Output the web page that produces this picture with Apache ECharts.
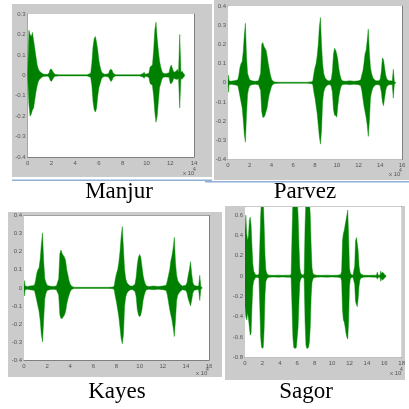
<!DOCTYPE html>
<html><head><meta charset="utf-8">
<script src="https://cdn.jsdelivr.net/npm/echarts@6/dist/echarts.min.js"></script>
<style>html,body{margin:0;padding:0;background:#fff}#c{width:409px;height:409px}</style>
</head><body><div id="c"></div>
<script>
// ---- data (x in units of 10^4 samples; hi/lo = waveform envelope) ----
const names = ['Manjur', 'Parvez', 'Kayes', 'Sagor'];
const xMaxs = [14, 16, 16, 18];
const yMins = [-0.4, -0.4, -0.4, -0.8];
const yMaxs = [0.3, 0.4, 0.4, 0.68];
const yIntervals = [0.1, 0.1, 0.1, 0.2];

const manjurX  = [0,0.1,0.2,0.3,0.4,0.5,0.6,0.7,0.8,0.9,1.0,1.1,1.2,1.3,1.5,1.7,1.8,1.9,2.0,2.1,2.2,2.3,2.6,3.0,3.4,3.8,4.2,4.6,5.0,5.3,5.4,5.5,5.6,5.7,5.8,5.9,6.0,6.1,6.2,6.3,6.5,6.8,6.9,7.0,7.1,7.2,7.4,7.8,8.2,8.6,9.0,9.4,9.7,9.8,9.9,10.2,10.3,10.4,10.5,10.6,10.7,10.8,10.9,11.0,11.1,11.2,11.3,11.4,11.6,11.9,12.0,12.1,12.2,12.3,12.5,12.6,12.7,12.8,12.9,13.0,13.1,13.2];
const manjurHi = [0.01,0.22,0.2,0.19,0.21,0.17,0.13,0.09,0.05,0.03,0.02,0.015,0.01,0.006,0.005,0.005,0.012,0.03,0.03,0.02,0.01,0.005,0.003,0.003,0.003,0.003,0.003,0.003,0.003,0.01,0.06,0.14,0.18,0.19,0.16,0.12,0.07,0.04,0.02,0.01,0.005,0.008,0.025,0.03,0.025,0.01,0.003,0.003,0.003,0.003,0.003,0.003,0.008,0.015,0.005,0.01,0.04,0.045,0.05,0.12,0.22,0.26,0.18,0.12,0.07,0.04,0.02,0.01,0.008,0.012,0.04,0.05,0.03,0.015,0.02,0.03,0.015,0.2,0.015,0.02,0.01,0.005];
const manjurLo = [-0.01,-0.14,-0.2,-0.19,-0.17,-0.16,-0.12,-0.08,-0.05,-0.03,-0.02,-0.015,-0.01,-0.006,-0.005,-0.005,-0.01,-0.025,-0.03,-0.02,-0.01,-0.005,-0.003,-0.003,-0.003,-0.003,-0.003,-0.003,-0.003,-0.01,-0.05,-0.13,-0.17,-0.18,-0.16,-0.1,-0.06,-0.04,-0.02,-0.01,-0.005,-0.008,-0.02,-0.03,-0.025,-0.01,-0.003,-0.003,-0.003,-0.003,-0.003,-0.003,-0.008,-0.015,-0.005,-0.01,-0.04,-0.045,-0.05,-0.1,-0.18,-0.23,-0.2,-0.13,-0.06,-0.04,-0.02,-0.01,-0.008,-0.01,-0.04,-0.04,-0.03,-0.015,-0.02,-0.02,-0.015,-0.16,-0.015,-0.02,-0.01,-0.005];

const parvezX  = [0,0.05,0.1,0.3,0.5,0.7,0.9,1.0,1.1,1.2,1.3,1.4,1.5,1.6,1.7,1.8,1.9,2.0,2.2,2.5,2.8,3.0,3.1,3.2,3.3,3.4,3.5,3.6,3.7,3.8,3.9,4.0,4.1,4.3,4.8,5.3,5.8,6.3,6.8,7.3,7.7,7.8,7.9,8.0,8.1,8.2,8.3,8.4,8.5,8.6,8.7,8.8,8.9,9.0,9.2,9.4,9.5,9.6,9.7,9.8,9.9,10.0,10.1,10.2,10.3,10.4,10.5,10.8,11.2,11.6,12.0,12.2,12.3,12.4,12.5,12.6,12.7,12.8,12.9,13.0,13.1,13.2,13.3,13.4,13.6,13.9,14.0,14.1,14.2,14.3,14.4,14.5,14.6,14.8,15.0,15.1,15.2,15.3,15.4];
const parvezHi = [0.01,0.04,0.01,0.008,0.01,0.012,0.015,0.04,0.08,0.1,0.11,0.16,0.25,0.31,0.14,0.05,0.03,0.015,0.01,0.008,0.01,0.05,0.2,0.21,0.19,0.18,0.17,0.14,0.1,0.07,0.04,0.02,0.01,0.004,0.003,0.003,0.003,0.003,0.003,0.003,0.005,0.01,0.05,0.08,0.1,0.14,0.2,0.29,0.34,0.2,0.1,0.05,0.03,0.02,0.01,0.01,0.02,0.06,0.15,0.18,0.17,0.15,0.12,0.07,0.04,0.02,0.01,0.008,0.01,0.008,0.01,0.015,0.04,0.06,0.1,0.15,0.17,0.22,0.28,0.16,0.08,0.05,0.03,0.02,0.01,0.01,0.02,0.06,0.13,0.12,0.08,0.04,0.02,0.01,0.01,0.008,0.07,0.005,0.003];
const parvezLo = [-0.01,-0.05,-0.01,-0.008,-0.01,-0.012,-0.015,-0.04,-0.07,-0.1,-0.13,-0.19,-0.27,-0.31,-0.17,-0.06,-0.03,-0.015,-0.01,-0.008,-0.01,-0.04,-0.15,-0.18,-0.18,-0.17,-0.15,-0.13,-0.09,-0.06,-0.04,-0.02,-0.01,-0.004,-0.003,-0.003,-0.003,-0.003,-0.003,-0.003,-0.005,-0.01,-0.05,-0.08,-0.12,-0.16,-0.22,-0.28,-0.32,-0.25,-0.1,-0.05,-0.03,-0.02,-0.01,-0.01,-0.02,-0.05,-0.14,-0.17,-0.17,-0.18,-0.12,-0.07,-0.04,-0.02,-0.01,-0.008,-0.01,-0.008,-0.01,-0.015,-0.04,-0.08,-0.12,-0.15,-0.18,-0.22,-0.28,-0.2,-0.08,-0.05,-0.03,-0.02,-0.01,-0.01,-0.02,-0.05,-0.1,-0.12,-0.08,-0.04,-0.02,-0.01,-0.01,-0.008,-0.08,-0.005,-0.003];

const kayesX  = [0,0.05,0.1,0.3,0.5,0.7,0.9,1.0,1.1,1.2,1.3,1.4,1.5,1.6,1.7,1.8,1.9,2.0,2.2,2.5,2.8,3.0,3.1,3.2,3.3,3.4,3.5,3.6,3.7,3.8,3.9,4.0,4.1,4.3,4.8,5.3,5.8,6.3,6.8,7.3,7.7,7.8,7.9,8.0,8.1,8.2,8.3,8.4,8.5,8.6,8.7,8.8,8.9,9.0,9.2,9.4,9.6,9.7,9.8,9.9,10.0,10.1,10.2,10.3,10.4,10.5,10.6,10.8,11.2,11.6,12.0,12.3,12.4,12.5,12.6,12.7,12.8,12.9,13.0,13.1,13.2,13.3,13.4,13.5,13.7,14.0,14.1,14.2,14.3,14.4,14.5,14.6,14.7,14.9,15.1,15.2,15.3,15.4];
const kayesHi = [0.01,0.04,0.01,0.008,0.01,0.012,0.015,0.04,0.08,0.1,0.11,0.16,0.24,0.305,0.15,0.05,0.03,0.015,0.01,0.008,0.01,0.05,0.19,0.21,0.19,0.18,0.17,0.15,0.1,0.07,0.04,0.02,0.01,0.004,0.003,0.003,0.003,0.003,0.003,0.003,0.005,0.01,0.05,0.08,0.1,0.14,0.2,0.28,0.34,0.22,0.1,0.05,0.03,0.02,0.01,0.01,0.02,0.06,0.13,0.17,0.185,0.17,0.12,0.07,0.04,0.02,0.01,0.008,0.01,0.008,0.01,0.015,0.04,0.07,0.1,0.15,0.18,0.22,0.28,0.14,0.07,0.04,0.03,0.02,0.01,0.015,0.03,0.07,0.1,0.145,0.08,0.03,0.015,0.01,0.01,0.07,0.005,0.003];
const kayesLo = [-0.01,-0.045,-0.01,-0.008,-0.01,-0.012,-0.015,-0.04,-0.07,-0.1,-0.13,-0.18,-0.26,-0.3,-0.18,-0.06,-0.03,-0.015,-0.01,-0.008,-0.01,-0.04,-0.15,-0.17,-0.17,-0.16,-0.15,-0.13,-0.09,-0.06,-0.04,-0.02,-0.01,-0.004,-0.003,-0.003,-0.003,-0.003,-0.003,-0.003,-0.005,-0.01,-0.05,-0.08,-0.12,-0.16,-0.22,-0.28,-0.31,-0.26,-0.1,-0.05,-0.03,-0.02,-0.01,-0.01,-0.02,-0.05,-0.12,-0.15,-0.16,-0.15,-0.12,-0.07,-0.04,-0.02,-0.01,-0.008,-0.01,-0.008,-0.01,-0.015,-0.04,-0.08,-0.12,-0.15,-0.18,-0.22,-0.27,-0.18,-0.07,-0.04,-0.03,-0.02,-0.01,-0.015,-0.03,-0.06,-0.08,-0.1,-0.07,-0.03,-0.015,-0.01,-0.01,-0.07,-0.005,-0.003];

const sagorX  = [0,0.1,0.2,0.3,0.4,0.5,0.6,0.7,0.8,0.9,1.0,1.1,1.2,1.4,1.6,1.7,1.8,1.9,2.0,2.1,2.2,2.3,2.4,2.5,2.6,2.8,3.3,3.8,4.3,4.8,5.2,5.3,5.4,5.5,5.6,5.7,5.8,5.9,6.0,6.1,6.2,6.3,6.4,6.5,6.7,6.8,6.9,7.0,7.1,7.2,7.3,7.4,7.5,7.6,7.7,7.8,7.9,8.2,8.8,9.4,10.0,10.6,11.0,11.1,11.2,11.3,11.4,11.5,11.6,11.7,11.8,11.9,12.0,12.1,12.2,12.4,12.6,12.7,12.8,12.9,13.0,13.1,13.2,13.3,13.6,14.2,14.8,15.1,15.2,15.3,15.5,15.6,15.7,15.8,15.9,16.0,16.1,16.2];
const sagorHi = [0.45,0.6,0.42,0.35,0.4,0.55,0.58,0.5,0.3,0.12,0.05,0.03,0.015,0.01,0.02,0.3,0.6,0.75,0.75,0.75,0.5,0.2,0.06,0.03,0.015,0.01,0.008,0.01,0.008,0.01,0.01,0.02,0.4,0.75,0.75,0.75,0.75,0.75,0.75,0.6,0.3,0.08,0.03,0.015,0.01,0.03,0.5,0.75,0.75,0.75,0.75,0.75,0.6,0.3,0.08,0.03,0.015,0.01,0.008,0.01,0.008,0.01,0.015,0.05,0.35,0.42,0.45,0.5,0.55,0.6,0.65,0.4,0.08,0.03,0.015,0.01,0.1,0.35,0.38,0.32,0.25,0.1,0.04,0.02,0.01,0.008,0.01,0.01,0.04,0.01,0.01,0.05,0.02,0.04,0.03,0.02,0.01,0.005];
const sagorLo = [-0.3,-0.4,-0.43,-0.36,-0.42,-0.5,-0.58,-0.56,-0.3,-0.1,-0.05,-0.03,-0.015,-0.01,-0.02,-0.3,-0.6,-0.7,-0.71,-0.7,-0.52,-0.18,-0.05,-0.03,-0.015,-0.01,-0.008,-0.01,-0.008,-0.01,-0.01,-0.02,-0.3,-0.6,-0.7,-0.71,-0.71,-0.7,-0.6,-0.5,-0.25,-0.06,-0.03,-0.015,-0.01,-0.03,-0.45,-0.68,-0.71,-0.71,-0.7,-0.65,-0.5,-0.2,-0.06,-0.03,-0.015,-0.01,-0.008,-0.01,-0.008,-0.01,-0.015,-0.05,-0.33,-0.43,-0.45,-0.5,-0.56,-0.6,-0.62,-0.45,-0.1,-0.03,-0.015,-0.01,-0.08,-0.25,-0.28,-0.3,-0.22,-0.1,-0.04,-0.02,-0.01,-0.008,-0.01,-0.01,-0.03,-0.01,-0.01,-0.05,-0.02,-0.04,-0.03,-0.02,-0.01,-0.005];

const waves = [[manjurX, manjurHi, manjurLo],[parvezX, parvezHi, parvezLo],[kayesX, kayesHi, kayesLo],[sagorX, sagorHi, sagorLo]];

// ---- layout (pixels) ----
const layout = [
  {l:27.7, t:14,  w:166.3, h:143,   frame:[12,4,200,173],   label:[119,192], xlab:[183,173], blue:[12,179.5,200], top:true},
  {l:228,  t:6,   w:174,   h:153.5, frame:[214,0,195,180],  label:[305,192], xlab:[389,174], blue:[205,181,204], top:true},
  {l:24,   t:215.7,w:185,  h:144.3, frame:[8,212,214,165],  label:[117,392], xlab:[196,373], top:true},
  {l:245,  t:207, w:156.7, h:150.5, frame:[225,206,180,174],label:[306,392], xlab:[390,373], top:false}
];

const GREEN = '#008000';
const AX = '#808080';
const fmt = v => { const r = Math.round(v * 10) / 10; return r === 0 ? '0' : String(r); };

const grid = [], xAxis = [], yAxis = [], series = [], graphic = [];
layout.forEach((p, i) => {
  grid.push({left:p.l, top:p.t, width:p.w, height:p.h, show:true, backgroundColor:'#fff', borderWidth:0, z:1});
  const line = {show:true, onZero:false, lineStyle:{color:AX, width:1}};
  const tick = {show:true, inside:true, length:2, lineStyle:{color:AX, width:1}};
  const lab = {fontSize:6, color:'#555', fontFamily:'Liberation Sans'};
  xAxis.push({gridIndex:i, type:'value', min:0, max:xMaxs[i], interval:2, position:'bottom',
    axisLine:line, axisTick:tick, splitLine:{show:false}, axisLabel:Object.assign({margin:3}, lab)});
  xAxis.push({gridIndex:i, type:'value', min:0, max:xMaxs[i], interval:2, position:'top', show:p.top,
    axisLine:line, axisTick:tick, splitLine:{show:false}, axisLabel:{show:false}});
  yAxis.push({gridIndex:i, type:'value', min:yMins[i], max:yMaxs[i], interval:yIntervals[i], position:'left',
    axisLine:line, axisTick:tick, splitLine:{show:false},
    axisLabel:Object.assign({margin:2, formatter:fmt, showMaxLabel: i !== 3}, lab)});
  yAxis.push({gridIndex:i, type:'value', min:yMins[i], max:yMaxs[i], interval:yIntervals[i], position:'right',
    axisLine:line, axisTick:tick, splitLine:{show:false}, axisLabel:{show:false}});
  const [xs, hi, lo] = waves[i];
  series.push({type:'custom', xAxisIndex:2*i, yAxisIndex:2*i, clip:true, animation:false, z:3,
    data: xs.map((x, k) => [x, hi[k], lo[k]]),
    renderItem: (params, api) => {
      if (params.dataIndex !== 0) return null;
      const pts = [];
      for (let k = 0; k < xs.length; k++) pts.push(api.coord([xs[k], hi[k]]));
      for (let k = xs.length - 1; k >= 0; k--) pts.push(api.coord([xs[k], lo[k]]));
      return {type:'polygon', shape:{points:pts},
        style:{fill:GREEN, stroke:'rgba(0,140,0,0.55)', lineWidth:0.8}};
    }});
  const f = p.frame;
  graphic.push({type:'rect', z:-10, shape:{x:f[0], y:f[1], width:f[2], height:f[3]}, style:{fill:'#cbcbcb'}});
  if (p.blue) graphic.push({type:'rect', z:-10, shape:{x:p.blue[0], y:p.blue[1], width:p.blue[2], height:1.5}, style:{fill:'#8fb0d4'}});
  graphic.push({type:'text', z:5, x:p.label[0], y:p.label[1],
    style:{text:names[i], font:'23px "Liberation Serif"', fill:'#000', textAlign:'center', textVerticalAlign:'middle', verticalAlign:'middle'}});
  graphic.push({type:'text', z:5, x:p.xlab[0], y:p.xlab[1],
    style:{text:'x 10', font:'6px "Liberation Sans"', fill:'#555', textAlign:'left', verticalAlign:'middle', textVerticalAlign:'middle'}});
  graphic.push({type:'text', z:5, x:p.xlab[0] + 10, y:p.xlab[1] - 3.5,
    style:{text:'4', font:'5px "Liberation Sans"', fill:'#555', textAlign:'left', verticalAlign:'middle', textVerticalAlign:'middle'}});
});

const chart = echarts.init(document.getElementById('c'), null, {renderer:'canvas', width:409, height:409});
chart.setOption({animation:false, grid, xAxis, yAxis, series, graphic:{elements:graphic}});
</script>
</body></html>
